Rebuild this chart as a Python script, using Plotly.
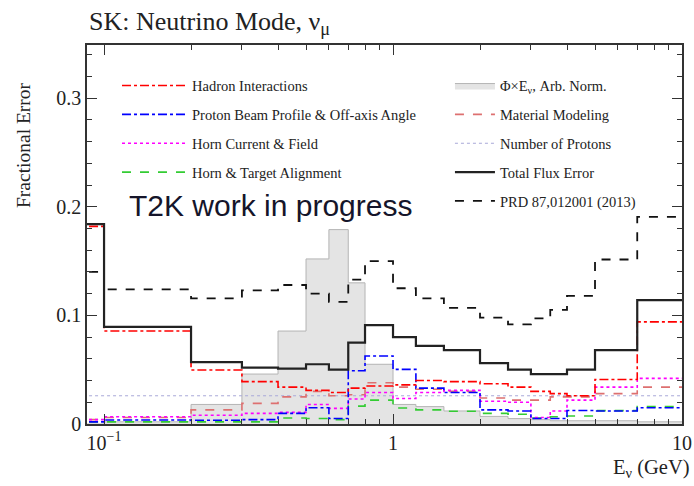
import math
import plotly.graph_objects as go

# Neutrino energy bin edges (GeV); the first bin starts at 0
bin_edges = [0.0, 0.1, 0.2, 0.3, 0.4, 0.5, 0.6, 0.7, 0.8, 1.0, 1.2, 1.5,
             2.0, 2.5, 3.0, 3.5, 4.0, 5.0, 7.0, 10.0]

# Fractional flux errors per bin
hadron = [0.182, 0.0856, 0.0497, 0.039, 0.034, 0.031, 0.029, 0.033, 0.035,
          0.036, 0.040, 0.039, 0.037, 0.034, 0.030, 0.028, 0.026, 0.041, 0.094]
beam_profile = [0.002, 0.0037, 0.0035, 0.004, 0.0098, 0.015, 0.005, 0.049, 0.0626,
                0.0503, 0.033, 0.029, 0.013, 0.012, 0.005, 0.005, 0.0125, 0.012, 0.015]
horn_current = [0.004, 0.0067, 0.008, 0.0098, 0.0107, 0.018, 0.0144, 0.023, 0.029,
                0.0235, 0.029, 0.031, 0.021, 0.020, 0.006, 0.012, 0.022, 0.034, 0.042]
horn_alignment = [0.002, 0.002, 0.002, 0.002, 0.0055, 0.005, 0.004, 0.0165, 0.022,
                  0.0147, 0.013, 0.0117, 0.0098, 0.009, 0.0055, 0.0067, 0.0074, 0.0123, 0.016]
material = [0.004, 0.006, 0.013, 0.019, 0.025, 0.030, 0.026, 0.027, 0.038,
            0.034, 0.032, 0.030, 0.024, 0.022, 0.022, 0.025, 0.025, 0.028, 0.034]
n_protons = [0.026] * 19
total = [0.184, 0.0895, 0.057, 0.052, 0.051, 0.055, 0.050, 0.075, 0.091,
         0.080, 0.072, 0.068, 0.056, 0.050, 0.046, 0.046, 0.050, 0.068, 0.114]
prd2013 = [0.14, 0.124, 0.1157, 0.123, 0.128, 0.120, 0.1125, 0.133, 0.150,
           0.125, 0.1156, 0.107, 0.098, 0.0917, 0.0972, 0.105, 0.118, 0.1515, 0.1907]
# Flux times energy, arbitrary normalisation
flux_e = [0.0, 0.002, 0.018, 0.046, 0.0856, 0.152, 0.179, 0.130, 0.055,
          0.018, 0.016, 0.012, 0.007, 0.005, 0.004, 0.003, 0.003, 0.003, 0.002]

SERIF = "Liberation Serif"


def step_xy(values):
    # zero cannot sit on a log axis: start the first bin just off the left edge
    xs = [e if e > 0 else 0.05 for e in bin_edges]
    ys = list(values) + [values[-1]]
    return xs, ys


fig = go.Figure()


def add_step(values, name, color, width, dash, legend, rank, fill=None, fillcolor=None):
    xs, ys = step_xy(values)
    fig.add_trace(go.Scatter(
        x=xs, y=ys, mode="lines", name=name, line_shape="hv",
        line=dict(color=color, width=width, dash=dash),
        fill=fill, fillcolor=fillcolor,
        legend=legend, legendrank=rank, legendgroup=name,
        hoverinfo="skip",
    ))


add_step(flux_e, "Φ×E<sub>ν</sub>, Arb. Norm.", "#b4b4b4", 1, "solid", "legend2", 1,
         fill="tozeroy", fillcolor="#e4e4e4")
add_step(n_protons, "Number of Protons", "#a8a8d8", 1, "dot", "legend2", 3)
add_step(material, "Material Modeling", "#dd7070", 1.6, "dash", "legend2", 2)
add_step(horn_alignment, "Horn &amp; Target Alignment", "#33cc33", 1.6, "dash", "legend", 4)
add_step(horn_current, "Horn Current &amp; Field", "#ff00ff", 1.6, "dot", "legend", 3)
add_step(beam_profile, "Proton Beam Profile &amp; Off-axis Angle", "#0000ff", 1.6, "dashdot", "legend", 2)
add_step(hadron, "Hadron Interactions", "#ff0000", 1.6, "dashdot", "legend", 1)
add_step(prd2013, "PRD 87,012001 (2013)", "#111111", 1.8, "dash", "legend2", 5)
add_step(total, "Total Flux Error", "#222222", 2.2, "solid", "legend2", 4)

legend_style = dict(
    font=dict(family=SERIF, size=14.5, color="#222222"),
    bgcolor="rgba(0,0,0,0)", borderwidth=0,
    traceorder="grouped", tracegroupgap=7,
    xanchor="left", yanchor="top",
)

minor_x = [0.2, 0.3, 0.4, 0.5, 0.6, 0.7, 0.8, 0.9, 2, 3, 4, 5, 6, 7, 8, 9]

fig.update_layout(
    width=694, height=486,
    margin=dict(l=87, r=12, t=45, b=62, autoexpand=False),
    paper_bgcolor="white", plot_bgcolor="white",
    showlegend=True,
    legend=dict(x=0.0504, y=0.935, itemwidth=65, **legend_style),
    legend2=dict(x=0.610, y=0.935, itemwidth=40, **legend_style),
    xaxis=dict(
        type="log", range=[math.log10(0.0873), 1.0], automargin=False,
        tickvals=[0.1, 1, 10], ticktext=["10<sup>−1</sup>", "1", "10"],
        ticks="inside", ticklen=10, tickwidth=1, tickcolor="#333333",
        showline=True, linecolor="#333333", linewidth=1.5, mirror="allticks",
        showgrid=False, zeroline=False,
        minor=dict(tickvals=minor_x, ticklen=5, tickwidth=1, tickcolor="#333333", ticks="inside"),
        tickfont=dict(family=SERIF, size=20, color="#222222"),
    ),
    yaxis=dict(
        range=[0, 0.349], automargin=False,
        tickvals=[0, 0.1, 0.2, 0.3], ticktext=["0", "0.1", "0.2", "0.3"],
        ticks="inside", ticklen=10, tickwidth=1, tickcolor="#333333",
        showline=True, linecolor="#333333", linewidth=1.5, mirror="allticks",
        showgrid=False, zeroline=False,
        minor=dict(dtick=0.02, ticklen=5, tickwidth=1, tickcolor="#333333", ticks="inside"),
        tickfont=dict(family=SERIF, size=20, color="#222222"),
    ),
)

fig.add_annotation(
    text="SK: Neutrino Mode, ν<sub>μ</sub>", xref="paper", yref="paper",
    x=0.0, y=1.0, xanchor="left", yanchor="bottom", yshift=4, showarrow=False,
    font=dict(family=SERIF, size=26, color="#222222"),
)
fig.add_annotation(
    text="Fractional Error", xref="paper", yref="paper",
    x=0.0, y=1.0, xanchor="center", yanchor="top", xshift=-64, yshift=-35,
    textangle=-90, showarrow=False,
    font=dict(family=SERIF, size=19.5, color="#222222"),
)
fig.add_annotation(
    text="E<sub>ν</sub> (GeV)", xref="paper", yref="paper",
    x=1.0, y=0.0, xanchor="right", yanchor="top", yshift=-30, xshift=10, showarrow=False,
    font=dict(family=SERIF, size=20.5, color="#222222"),
)
fig.add_annotation(
    text="T2K work in progress", xref="paper", yref="paper",
    x=0.068, y=0.577, xanchor="left", yanchor="middle", showarrow=False,
    font=dict(family="Liberation Sans", size=30, color="#15152a"),
)

fig.write_html("out.html")
